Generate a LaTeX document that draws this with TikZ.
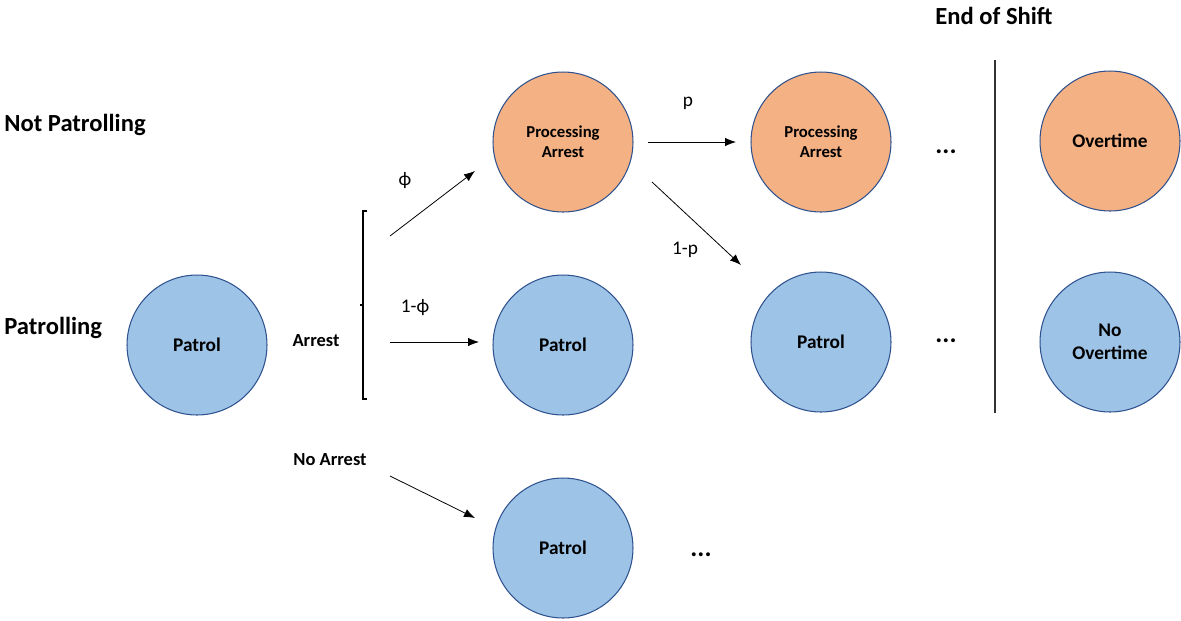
\documentclass[tikz,border=0pt]{standalone}
\usepackage{fontspec}
\setmainfont{Carlito}
\usetikzlibrary{arrows.meta}
\definecolor{busyorange}{HTML}{F4B183}
\definecolor{freeblue}{HTML}{9DC3E6}
\definecolor{rimblue}{HTML}{2F528F}
\begin{document}
\begin{tikzpicture}[x=0.02cm, y=-0.02cm,
  state/.style={circle, draw=rimblue, line width=0.6pt, minimum size=2.8cm,
    inner sep=0pt, align=center, font=\bfseries\fontsize{11}{13}\selectfont},
  busy/.style={state, fill=busyorange},
  free/.style={state, fill=freeblue},
  heading/.style={inner sep=0pt, font=\bfseries\fontsize{14}{16}\selectfont},
  branch/.style={inner sep=0pt, font=\bfseries\fontsize{10.5}{12}\selectfont},
  prob/.style={inner sep=0pt, font=\fontsize{11}{13}\selectfont},
  more/.style={inner sep=0pt, font=\bfseries\fontsize{15}{17}\selectfont},
  flow/.style={-{Latex[length=2.2mm,width=1.7mm]}, line width=0.45pt}]
    \useasboundingbox (0,0) rectangle (1181,620);
    % row titles
    \node[heading, anchor=west] (notpat) at (4,125) {Not Patrolling};
    \node[heading, anchor=west] (pat) at (4,328) {Patrolling};
    \node[heading] (eos) at (994,16) {End of Shift};
    % states
    \node[free] (start) at (197,345) {Patrol};
    \node[busy, font=\bfseries\fontsize{9.5}{11.5}\selectfont] (proc1) at (563,142) {Processing\\Arrest};
    \node[free] (pat1) at (563,345) {Patrol};
    \node[free] (pat1b) at (563,548) {Patrol};
    \node[busy, font=\bfseries\fontsize{9.5}{11.5}\selectfont] (proc2) at (821,142) {Processing\\Arrest};
    \node[free] (pat2) at (821,342) {Patrol};
    \node[busy] (over) at (1110,141) {Overtime};
    \node[free] (noover) at (1110,342) {No\\Overtime};
    % branch labels
    \node[branch] (arrest) at (316,341) {Arrest};
    \node[branch] (noarrest) at (330,460) {No Arrest};
    \draw[line width=1.4pt] (367,211) -- (363,211) -- (363,399) -- (367,399);
    \draw[line width=1.4pt] (363,305) -- (360,305);
    % arrow ends
    \coordinate (phiS) at (390,236);
    \coordinate (phiE) at (475,171);
    \coordinate (nphiS) at (390,342);
    \coordinate (nphiE) at (479,342);
    \coordinate (noS) at (390,476);
    \coordinate (noE) at (475,518);
    \coordinate (pS) at (648,142);
    \coordinate (pE) at (736,142);
    \coordinate (npS) at (652,182);
    \coordinate (npE) at (741,265);
    \draw[flow] (phiS) -- (phiE);
    \draw[flow] (nphiS) -- (nphiE);
    \draw[flow] (noS) -- (noE);
    \draw[flow] (pS) -- (pE);
    \draw[flow] (npS) -- (npE);
    % probabilities
    \node[prob] (phi) at (405,181) {ϕ};
    \node[prob] (nphi) at (415,308) {1-ϕ};
    \node[prob] (pp) at (688,103) {p};
    \node[prob] (np) at (685,250) {1-p};
    % continuation
    \node[more] (dots1) at (946,152) {...};
    \node[more] (dots2) at (946,341) {...};
    \node[more] (dots3) at (701,555) {...};
    % end of shift divider
    \coordinate (divT) at (995,60);
    \coordinate (divB) at (995,413);
    \draw[line width=0.6pt, black!80] (divT) -- (divB);
\end{tikzpicture}
\end{document}
